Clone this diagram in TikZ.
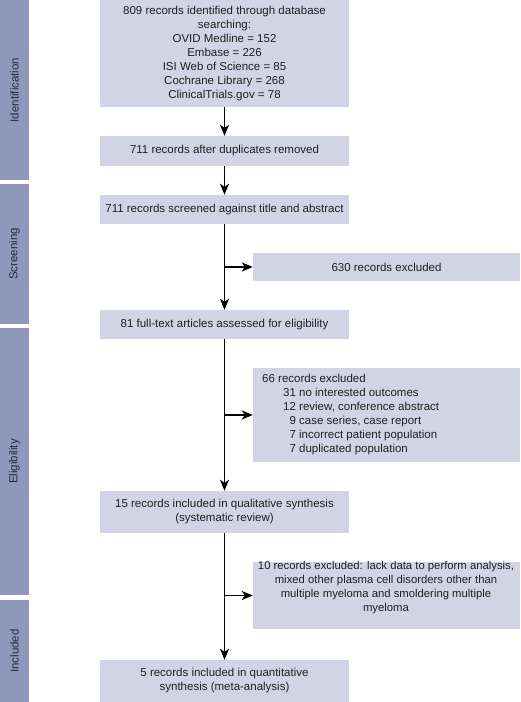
\documentclass[tikz,border=0pt]{standalone}
\usepackage{fontspec}
\setmainfont{Liberation Sans}
\usetikzlibrary{arrows.meta}
\definecolor{boxc}{RGB}{210,212,229}
\definecolor{sidec}{RGB}{143,151,187}
\definecolor{txtc}{RGB}{35,31,32}
\definecolor{sidetxt}{RGB}{40,43,62}
\begin{document}
\begin{tikzpicture}[x=1pt,y=-1pt,
  every node/.style={font=\fontsize{11.5}{14}\selectfont, text=txtc},
  mainbox/.style={fill=boxc, draw=none, inner sep=0pt, minimum width=249pt, align=center},
  sidebox/.style={fill=boxc, draw=none, inner sep=0pt, minimum width=267pt, align=center},
  phase/.style={fill=sidec, draw=none, inner sep=0pt, minimum width=29pt},
  phasetxt/.style={rotate=90, text=sidetxt},
  arr/.style={line width=1.6pt, black, -{Stealth[length=11pt,width=9pt,inset=3pt]}}]
\useasboundingbox (0,0) rectangle (520,702);
% phase bars
\node[phase, minimum height=180pt] (s1) at (14.5,90) {};
\node[phase, minimum height=140pt] (s2) at (14.5,254) {};
\node[phase, minimum height=267pt] (s3) at (14.5,461.5) {};
\node[phase, minimum height=102pt] (s4) at (14.5,651) {};
\node[phasetxt] (l1) at (s1.center) {Identification};
\node[phasetxt] (l2) at (s2.center) {Screening};
\node[phasetxt] (l3) at (s3.center) {Eligibility};
\node[phasetxt] (l4) at (s4.center) {Included};
% main column
\node[mainbox, minimum height=107pt] (b1) at (224.5,53.5)
  {809 records identified through database\\searching:\\OVID Medline = 152\\Embase = 226\\ISI Web of Science = 85\\Cochrane Library = 268\\ClinicalTrials.gov = 78};
\node[mainbox, minimum height=30pt] (b2) at (224.5,151) {711 records after duplicates removed};
\node[mainbox, minimum height=29pt] (b3) at (224.5,209.5) {711 records screened against title and abstract};
\node[mainbox, minimum height=29pt] (b4) at (224.5,324.5) {81 full-text articles assessed for eligibility};
\node[mainbox, minimum height=42pt] (b15) at (224.5,512) {15 records included in qualitative synthesis\\(systematic review)};
\node[mainbox, minimum height=42pt] (b5) at (224.5,681) {5 records included in quantitative\\synthesis (meta-analysis)};
% exclusion boxes
\node[sidebox, minimum height=28pt] (e1) at (386.5,267) {630 records excluded};
\node[sidebox, minimum height=94pt] (e2) at (386.5,415) {};
\node[anchor=west, align=left, inner sep=0pt] (t2) at (262,415)
  {66 records excluded\\
   \hspace*{21pt}31 no interested outcomes\\
   \hspace*{21pt}12 review, conference abstract\\
   \hspace*{21pt}\phantom{1}9 case series, case report\\
   \hspace*{21pt}\phantom{1}7 incorrect patient population\\
   \hspace*{21pt}\phantom{1}7 duplicated population};
\node[sidebox, minimum height=67pt] (e3) at (386.5,595.5) {};
\node[align=center, inner sep=0pt, font=\fontsize{11.3}{14}\selectfont] (t3) at (386,587.5)
  {10 records excluded: lack data to perform analysis,\\mixed other plasma cell disorders other than\\multiple myeloma and smoldering multiple\\myeloma};
% connectors
\draw[arr] (b1.south) -- (b2.north);
\draw[arr] (b2.south) -- (b3.north);
\draw[arr] (b3.south) -- (b4.north);
\draw[arr] (b3.south |- e1.west) -- (e1.west);
\draw[arr] (b4.south) -- (b15.north);
\draw[arr] (b4.south |- e2.west) -- (e2.west);
\draw[arr] (b15.south) -- (b5.north);
\draw[arr] (b15.south |- e3.west) -- (e3.west);
\end{tikzpicture}
\end{document}
